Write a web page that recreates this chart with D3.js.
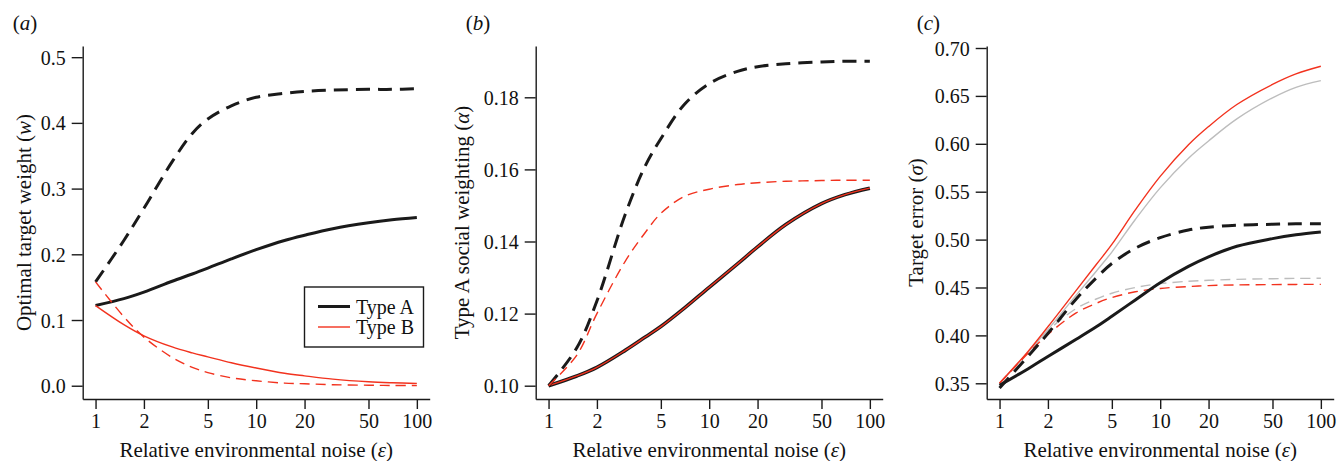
<!DOCTYPE html>
<html>
<head>
<meta charset="utf-8">
<script src="https://cdn.jsdelivr.net/npm/d3@7"></script>
<style>
  body { margin: 0; background: #fff; }
  svg, svg text { font-family: 'Liberation Serif', 'Times New Roman', Tinos, 'DejaVu Serif', serif; }
  .tick text { font-size: 20px; fill: #111; }
  .axis-name { font-size: 21px; fill: #111; }
  .legend-text { font-size: 20px; fill: #111; }
</style>
</head>
<body>
<div id="chart"></div>
<script>
// Data
const eps = [1, 1.5, 2, 3, 4, 5, 7, 10, 15, 20, 30, 50, 70, 100];
const xTicks = [1, 2, 5, 10, 20, 50, 100];

// (a) optimal target weight
const aBlackSolid = [0.122, 0.1325, 0.1425, 0.159, 0.170, 0.179, 0.193, 0.207, 0.221, 0.229, 0.239, 0.248, 0.2525, 0.256];
const aBlackDash = [0.158, 0.221, 0.270, 0.341, 0.384, 0.406, 0.426, 0.439, 0.445, 0.448, 0.450, 0.451, 0.451, 0.452];
const aRedSolid = [0.122, 0.093, 0.076, 0.059, 0.050, 0.044, 0.035, 0.027, 0.019, 0.015, 0.010, 0.006, 0.0045, 0.0035];
const aRedDash = [0.158, 0.105, 0.074, 0.043, 0.028, 0.020, 0.012, 0.0075, 0.004, 0.003, 0.0015, 0.0008, 0.0004, 0.0002];
const aTicks = [0.0, 0.1, 0.2, 0.3, 0.4, 0.5];

// (b) type A social weighting
const bSolid = [0.100, 0.1027, 0.1051, 0.1098, 0.1135, 0.1164, 0.1215, 0.1273, 0.1338, 0.1385, 0.1447, 0.1505, 0.1530, 0.1548];
const bBlackDash = [0.100, 0.1105, 0.1235, 0.1475, 0.161, 0.1685, 0.178, 0.1838, 0.1872, 0.1885, 0.1893, 0.1898, 0.1900, 0.1900];
const bRedDash = [0.100, 0.1085, 0.120, 0.1345, 0.1425, 0.1478, 0.1525, 0.1545, 0.1558, 0.1563, 0.1567, 0.1569, 0.157, 0.157];
const bTicks = [0.10, 0.12, 0.14, 0.16, 0.18];

// (c) target error
const cRedSolid = [0.350, 0.383, 0.409, 0.447, 0.474, 0.495, 0.531, 0.566, 0.599, 0.618, 0.641, 0.662, 0.673, 0.681];
const cGraySolid = [0.350, 0.382, 0.406, 0.442, 0.467, 0.487, 0.521, 0.554, 0.585, 0.603, 0.626, 0.648, 0.659, 0.666];
const cBlackSolid = [0.348, 0.365, 0.378, 0.396, 0.409, 0.420, 0.437, 0.455, 0.472, 0.482, 0.493, 0.501, 0.505, 0.508];
const cBlackDash = [0.345, 0.378, 0.402, 0.438, 0.460, 0.475, 0.491, 0.502, 0.510, 0.513, 0.515, 0.516, 0.5165, 0.5165];
const cGrayDash = [0.350, 0.382, 0.405, 0.428, 0.438, 0.444, 0.450, 0.454, 0.4565, 0.4575, 0.4585, 0.4592, 0.4595, 0.4596];
const cRedDash = [0.350, 0.381, 0.401, 0.4235, 0.4335, 0.4395, 0.4455, 0.449, 0.451, 0.452, 0.4527, 0.453, 0.4532, 0.4533];
const cTicks = [0.35, 0.40, 0.45, 0.50, 0.55, 0.60, 0.65, 0.70];

const RED = '#f2321e';
const GRAY = '#bdbdbd';
const INK = '#1a1a1a';
const SERIF = "'Liberation Serif', 'Times New Roman', Tinos, 'DejaVu Serif', serif";

const width = 1338;
const height = 461;
const plotTop = 46;
const plotBottom = 399;
const boxW = 347;

const svg = d3.select('#chart')
  .append('svg')
  .attr('width', width)
  .attr('height', height)
  .attr('font-family', SERIF);

function drawPanel(opt) {
  const x = d3.scaleLog()
    .domain([10 ** -0.08, 10 ** 2.08])
    .range([opt.left, opt.left + boxW]);
  const y = d3.scaleLinear().domain(opt.yDomain).range([plotBottom, plotTop]);

  const g = svg.append('g');

  // x-axis (bottom side of the L box)
  const xAxis = g.append('g')
    .attr('transform', `translate(0, ${plotBottom})`)
    .call(d3.axisBottom(x).tickValues(xTicks).tickFormat(d3.format('d'))
      .tickSize(10).tickSizeOuter(0).tickPadding(5));
  // y-axis (left side of the L box)
  const yAxis = g.append('g')
    .attr('transform', `translate(${opt.left}, 0)`)
    .call(d3.axisLeft(y).tickValues(opt.yTicks).tickFormat(d3.format(opt.fmt))
      .tickSize(11).tickSizeOuter(0).tickPadding(6));
  [xAxis, yAxis].forEach((a) => {
    a.attr('font-family', SERIF);
    a.selectAll('path, line').attr('stroke', INK).attr('stroke-width', 1.4);
  });
  yAxis.selectAll('text').attr('dy', '0.35em');

  const line = (vals) => d3.line()
    .x((d, i) => x(eps[i]))
    .y((d) => y(d))
    .curve(d3.curveCatmullRom.alpha(0.5))(vals);

  opt.series.forEach((s) => {
    g.append('path')
      .attr('d', line(s.vals))
      .attr('fill', 'none')
      .attr('stroke', s.color)
      .attr('stroke-width', s.w)
      .attr('stroke-dasharray', s.dash || null)
      .attr('stroke-linecap', 'butt');
  });

  // panel letter
  const lab = g.append('text')
    .attr('x', opt.left - 70)
    .attr('y', 30)
    .attr('class', 'axis-name');
  lab.append('tspan').text('(');
  lab.append('tspan').style('font-style', 'italic').text(opt.letter);
  lab.append('tspan').text(')');

  // x-axis name
  const xt = g.append('text')
    .attr('class', 'axis-name')
    .attr('text-anchor', 'middle')
    .attr('x', opt.left + boxW / 2)
    .attr('y', 457);
  xt.append('tspan').text('Relative environmental noise (');
  xt.append('tspan').style('font-style', 'italic').text('ε');
  xt.append('tspan').text(')');

  // y-axis name
  const yt = g.append('text')
    .attr('class', 'axis-name')
    .attr('text-anchor', 'middle')
    .attr('transform', `translate(${opt.yTitleX}, ${(plotTop + plotBottom) / 2}) rotate(-90)`);
  yt.append('tspan').text(opt.yTitle);
  yt.append('tspan').style('font-style', 'italic').text(opt.sym);
  yt.append('tspan').text(')');

  return { g, x, y };
}

// (a)
const pa = drawPanel({
  left: 82.7,
  yDomain: [-0.0202, 0.517],
  yTicks: aTicks,
  fmt: '.1f',
  letter: 'a',
  yTitle: 'Optimal target weight (',
  sym: 'w',
  yTitleX: 31,
  series: [
    { vals: aBlackSolid, color: INK, w: 3 },
    { vals: aBlackDash, color: INK, w: 3, dash: '14,8' },
    { vals: aRedDash, color: RED, w: 1.4, dash: '10,6' },
    { vals: aRedSolid, color: RED, w: 1.4 },
  ],
});

// legend
const leg = pa.g.append('g');
leg.append('rect')
  .attr('x', 304.5).attr('y', 287)
  .attr('width', 119).attr('height', 60)
  .attr('fill', '#fff').attr('stroke', INK).attr('stroke-width', 1.4);
[['Type A', INK, 3, 306.5], ['Type B', RED, 1.4, 327]].forEach(([name, c, w, yy]) => {
  leg.append('line')
    .attr('x1', 318).attr('x2', 350).attr('y1', yy).attr('y2', yy)
    .attr('stroke', c).attr('stroke-width', w);
  leg.append('text')
    .attr('class', 'legend-text')
    .attr('x', 356).attr('y', yy).attr('dy', '0.35em')
    .text(name);
});

// (b)
drawPanel({
  left: 535.7,
  yDomain: [0.09631, 0.19423],
  yTicks: bTicks,
  fmt: '.2f',
  letter: 'b',
  yTitle: 'Type A social weighting (',
  sym: 'α',
  yTitleX: 469,
  series: [
    { vals: bSolid, color: INK, w: 3.6 },
    { vals: bSolid, color: RED, w: 1.4 },
    { vals: bBlackDash, color: INK, w: 3, dash: '14,8' },
    { vals: bRedDash, color: RED, w: 1.4, dash: '10,6' },
  ],
});

// (c)
drawPanel({
  left: 986.7,
  yDomain: [0.3336, 0.7021],
  yTicks: cTicks,
  fmt: '.2f',
  letter: 'c',
  yTitle: 'Target error (',
  sym: 'σ',
  yTitleX: 923,
  series: [
    { vals: cGraySolid, color: GRAY, w: 1.4 },
    { vals: cGrayDash, color: GRAY, w: 1.4, dash: '10,6' },
    { vals: cRedSolid, color: RED, w: 1.4 },
    { vals: cRedDash, color: RED, w: 1.4, dash: '10,6' },
    { vals: cBlackSolid, color: INK, w: 3 },
    { vals: cBlackDash, color: INK, w: 3, dash: '14,8' },
  ],
});
</script>
</body>
</html>
